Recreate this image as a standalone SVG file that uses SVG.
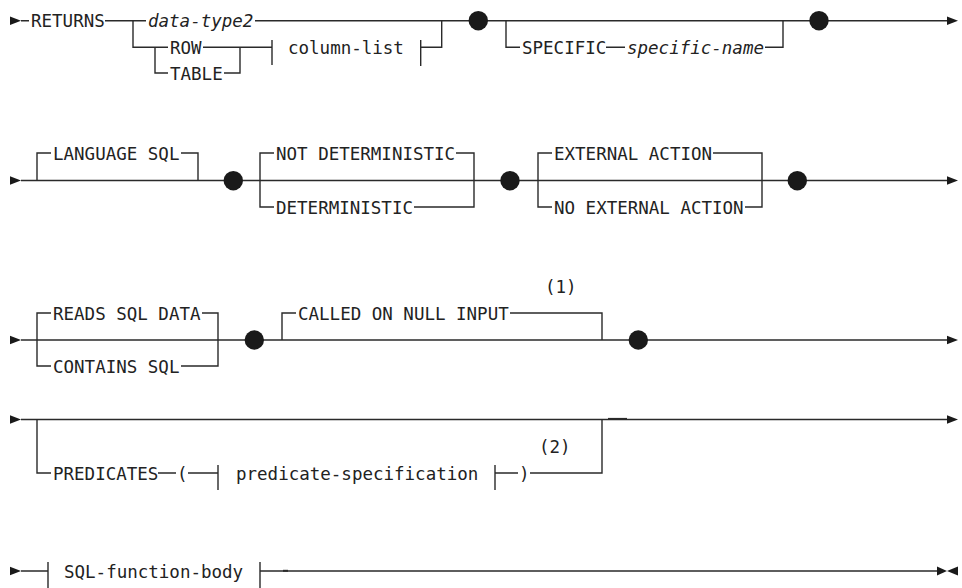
<svg xmlns="http://www.w3.org/2000/svg" width="962" height="588" viewBox="0 0 962 588">
<style>
.t{font-family:"DejaVu Sans Mono","Liberation Mono",monospace;font-size:17.5px;fill:#222}
.i{font-style:italic}
.c{fill:none;stroke:#2a2a2a;stroke-width:1.4}
.k{fill:none;stroke:#2a2a2a;stroke-width:2}
.dot{fill:#1a1a1a}
.ah{fill:#1a1a1a}
</style>
<rect width="962" height="588" fill="#fff"/>
<g id="connectors">
<!-- row 1 -->
<path class="c" d="M21 20.7H29 M105 20.7H146 M255 20.7H947"/>
<path class="c" d="M133 20.7V47.3H168 M155 47.3V73H168"/>
<path class="c" d="M203 47.3H272 M224 73H240V47.3"/>
<path class="c" d="M272 40V65 M420.7 40V66 M420.7 47.3H441.7V20.7"/>
<path class="c" d="M506 20.7V47.3H520 M606 47.3H625 M765 47.3H783V20.7"/>
<!-- row 2 -->
<path class="c" d="M21 180.5H947"/>
<path class="c" d="M37 180.5V153H51 M181 153H198V180.5"/>
<path class="c" d="M274 153H260V207H274 M456 153H474V207H414"/>
<path class="c" d="M552 153H538V207H552 M713 153H762V207H745"/>
<!-- row 3 -->
<path class="c" d="M21 340H947"/>
<path class="c" d="M51 313H37V366H51 M202 313H218V366H181"/>
<path class="c" d="M282 340V313H296 M510 313H602V340"/>
<!-- row 4 -->
<path class="c" d="M21 419.5H947"/>
<path class="c" d="M37 419.5V473H51 M158 473H176 M188 473H218 M218 465V490 M495 465V490 M495 473H518 M530 473H602V419.5"/>
<path class="k" d="M608 418.9H627"/>
<!-- row 5 -->
<path class="c" d="M21 571H48 M48 562V588 M260 562V588 M260 571H937"/>
<path class="k" d="M283 570.8H288"/>
<!-- arrowheads -->
<polygon class="ah" points="10,16.5 21,20.7 10,25"/>
<polygon class="ah" points="947,16.5 958,20.7 947,25"/>
<polygon class="ah" points="10,176.3 21,180.5 10,184.7"/>
<polygon class="ah" points="947,176.3 958,180.5 947,184.7"/>
<polygon class="ah" points="10,335.8 21,340 10,344.2"/>
<polygon class="ah" points="947,335.8 958,340 947,344.2"/>
<polygon class="ah" points="10,415.3 21,419.5 10,423.7"/>
<polygon class="ah" points="947,415.3 958,419.5 947,423.7"/>
<polygon class="ah" points="10,566.8 21,571 10,575.2"/>
<polygon class="ah" points="937,566.5 947,571 937,575.5"/>
<polygon class="ah" points="958,566.5 947,571 958,575.5"/>
</g>
<!-- row 1 nodes -->
<g id="returns"><text class="t" x="31" y="27">RETURNS</text></g>
<g id="data-type2"><text class="t i" x="148" y="27">data-type2</text></g>
<g id="row"><text class="t" x="170" y="53.8">ROW</text></g>
<g id="table"><text class="t" x="170" y="79.5">TABLE</text></g>
<g id="column-list"><text class="t" x="288" y="53.8">column-list</text></g>
<g id="dot1"><circle class="dot" cx="478.3" cy="20.7" r="9.7"/></g>
<g id="specific"><text class="t" x="522" y="53.8">SPECIFIC</text></g>
<g id="specific-name"><text class="t i" x="627" y="53.8">specific-name</text></g>
<g id="dot2"><circle class="dot" cx="819" cy="20.7" r="9.7"/></g>
<!-- row 2 nodes -->
<g id="language-sql"><text class="t" x="53" y="159.5">LANGUAGE SQL</text></g>
<g id="dot3"><circle class="dot" cx="233.3" cy="180.7" r="9.7"/></g>
<g id="not-deterministic"><text class="t" x="276" y="159.5">NOT DETERMINISTIC</text></g>
<g id="deterministic"><text class="t" x="276" y="213.5">DETERMINISTIC</text></g>
<g id="dot4"><circle class="dot" cx="510" cy="180.7" r="9.7"/></g>
<g id="external-action"><text class="t" x="554" y="159.5">EXTERNAL ACTION</text></g>
<g id="no-external-action"><text class="t" x="554" y="213.5">NO EXTERNAL ACTION</text></g>
<g id="dot5"><circle class="dot" cx="797.3" cy="180.7" r="9.7"/></g>
<!-- row 3 nodes -->
<g id="reads-sql-data"><text class="t" x="53" y="319.5">READS SQL DATA</text></g>
<g id="contains-sql"><text class="t" x="53" y="372.5">CONTAINS SQL</text></g>
<g id="dot6"><circle class="dot" cx="254.3" cy="340" r="9.7"/></g>
<g id="called-on-null-input"><text class="t" x="298" y="319.5">CALLED ON NULL INPUT</text></g>
<g id="note1"><text class="t" x="545" y="293">(1)</text></g>
<g id="dot7"><circle class="dot" cx="638.3" cy="340" r="9.7"/></g>
<!-- row 4 nodes -->
<g id="predicates"><text class="t" x="53" y="479.5">PREDICATES</text></g>
<g id="lparen"><text class="t" x="177" y="479.5">(</text></g>
<g id="predicate-specification"><text class="t" x="236" y="479.5">predicate-specification</text></g>
<g id="rparen"><text class="t" x="519" y="479.5">)</text></g>
<g id="note2"><text class="t" x="539" y="453">(2)</text></g>
<!-- row 5 nodes -->
<g id="sql-function-body"><text class="t" x="64" y="577.5">SQL-function-body</text></g>
</svg>
